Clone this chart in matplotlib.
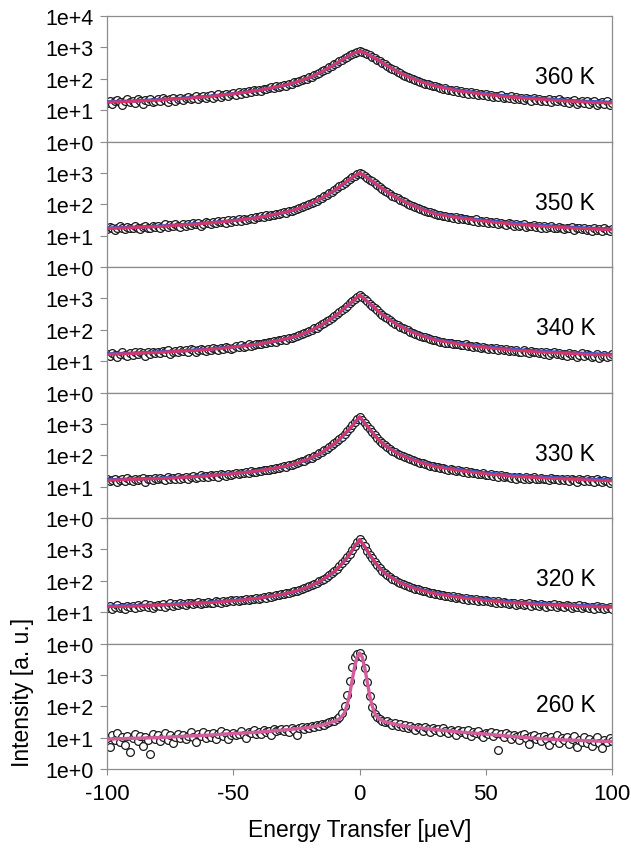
import numpy as np
import matplotlib
matplotlib.use("Agg")
import matplotlib.pyplot as plt

plt.rcParams["font.family"] = ["Liberation Sans", "DejaVu Sans"]
plt.rcParams["axes.unicode_minus"] = False

# energy transfer grid of the measured spectra (µeV)
energy = np.arange(-100, 101, 1)

temperatures = ["360 K", "350 K", "340 K", "330 K", "320 K", "260 K"]

# measured intensities, one spectrum per temperature
i_360 = [
    17, 20, 16, 19, 21, 18, 15, 19, 22, 18,
    20, 17, 22, 19, 16, 21, 20, 23, 18, 20,
    22, 19, 24, 21, 18, 23, 25, 20, 22, 24,
    21, 25, 27, 23, 24, 28, 22, 26, 29, 25,
    28, 31, 25, 29, 33, 27, 30, 34, 29, 32,
    35, 31, 37, 34, 39, 36, 41, 38, 44, 40,
    45, 42, 49, 47, 51, 54, 50, 58, 55, 61,
    64, 60, 70, 68, 77, 82, 86, 91, 99, 102,
    113, 118, 132, 140, 155, 175, 190, 212, 230, 262,
    295, 320, 365, 400, 445, 490, 555, 610, 680, 720,
    765,
    725, 675, 615, 560, 495, 450, 405, 360, 325, 290,
    258, 228, 205, 186, 168, 150, 137, 125, 114, 106,
    99, 92, 88, 80, 76, 70, 67, 63, 59, 57,
    54, 52, 48, 50, 45, 44, 41, 43, 39, 40,
    36, 38, 34, 37, 33, 35, 31, 34, 30, 32,
    28, 31, 27, 29, 26, 30, 24, 27, 25, 28,
    23, 26, 22, 24, 21, 25, 23, 20, 24, 21,
    22, 19, 21, 20, 23, 18, 21, 19, 22, 20,
    18, 20, 17, 19, 21, 16, 18, 19, 17, 20,
    16, 18, 19, 15, 17, 18, 16, 19, 15, 17,
]

i_350 = [
    16, 19, 17, 15, 18, 20, 17, 16, 19, 18,
    17, 20, 18, 16, 19, 21, 18, 17, 20, 19,
    21, 18, 20, 23, 19, 22, 20, 24, 21, 19,
    23, 21, 24, 22, 26, 23, 25, 21, 24, 27,
    26, 24, 28, 25, 29, 27, 30, 26, 31, 28,
    31, 29, 33, 30, 35, 32, 34, 37, 33, 38,
    39, 41, 38, 44, 42, 46, 45, 50, 48, 54,
    56, 53, 61, 60, 68, 71, 76, 80, 86, 95,
    102, 108, 122, 130, 146, 162, 178, 198, 222, 250,
    285, 320, 370, 420, 485, 550, 635, 720, 820, 910,
    1000,
    905, 810, 700, 610, 535, 470, 405, 355, 315, 275,
    240, 210, 190, 170, 155, 138, 126, 115, 104, 97,
    89, 82, 77, 71, 66, 62, 58, 55, 51, 49,
    46, 44, 42, 43, 39, 40, 37, 38, 35, 36,
    33, 35, 31, 32, 30, 33, 28, 30, 27, 29,
    26, 28, 25, 27, 23, 26, 24, 22, 25, 23,
    21, 23, 20, 22, 24, 19, 21, 20, 22, 19,
    20, 18, 21, 17, 19, 20, 18, 17, 19, 18,
    16, 18, 17, 19, 15, 17, 18, 16, 17, 15,
    16, 14, 17, 15, 16, 14, 17, 15, 14, 16,
]

i_340 = [
    17, 15, 18, 16, 14, 17, 19, 16, 15, 18,
    16, 19, 17, 20, 18, 15, 19, 17, 20, 18,
    20, 18, 21, 19, 22, 17, 20, 21, 19, 22,
    21, 23, 20, 24, 22, 19, 23, 25, 22, 21,
    24, 22, 26, 25, 23, 27, 25, 28, 26, 24,
    27, 30, 28, 32, 29, 31, 34, 30, 33, 35,
    36, 34, 39, 37, 41, 40, 44, 42, 47, 46,
    51, 49, 55, 54, 61, 64, 67, 74, 78, 86,
    92, 98, 110, 118, 133, 148, 165, 185, 205, 238,
    272, 310, 365, 420, 495, 580, 690, 810, 960, 1130,
    1300,
    1120, 950, 800, 680, 580, 490, 420, 355, 305, 265,
    230, 200, 178, 158, 142, 127, 115, 104, 95, 88,
    81, 75, 70, 65, 61, 57, 54, 51, 48, 46,
    44, 41, 42, 39, 37, 38, 36, 34, 35, 33,
    32, 34, 30, 31, 29, 31, 28, 27, 29, 26,
    25, 27, 24, 26, 23, 25, 22, 24, 21, 23,
    21, 23, 20, 19, 22, 20, 18, 21, 19, 20,
    18, 20, 17, 19, 16, 18, 19, 17, 18, 16,
    17, 15, 18, 16, 17, 14, 16, 18, 15, 17,
    16, 14, 15, 17, 13, 15, 16, 14, 15, 17,
]

i_330 = [
    17, 15, 16, 18, 14, 16, 17, 15, 19, 16,
    15, 18, 16, 17, 19, 14, 17, 18, 16, 19,
    17, 19, 18, 16, 20, 18, 19, 17, 20, 18,
    19, 21, 18, 20, 22, 19, 21, 23, 20, 22,
    21, 23, 22, 24, 21, 25, 23, 22, 26, 24,
    25, 27, 26, 28, 27, 30, 28, 31, 29, 30,
    32, 31, 34, 35, 33, 37, 36, 40, 39, 42,
    45, 43, 49, 48, 54, 57, 59, 65, 68, 76,
    80, 84, 94, 100, 114, 126, 142, 160, 182, 212,
    245, 285, 335, 395, 480, 580, 720, 900, 1120, 1400,
    1700,
    1380, 1080, 860, 680, 540, 430, 345, 285, 240, 205,
    178, 155, 138, 124, 112, 102, 94, 87, 80, 75,
    70, 66, 62, 58, 55, 52, 49, 47, 44, 42,
    41, 39, 40, 37, 35, 36, 34, 32, 33, 31,
    30, 31, 28, 29, 27, 28, 26, 25, 27, 24,
    23, 25, 22, 24, 21, 23, 20, 22, 21, 19,
    20, 18, 21, 19, 17, 20, 18, 19, 21, 17,
    18, 19, 17, 18, 16, 19, 17, 18, 16, 17,
    16, 17, 15, 18, 16, 14, 17, 16, 15, 17,
    15, 16, 14, 17, 15, 14, 16, 15, 13, 15,
]

i_320 = [
    14, 16, 13, 15, 17, 14, 15, 13, 16, 15,
    16, 14, 17, 15, 16, 18, 15, 17, 14, 16,
    17, 16, 18, 15, 17, 19, 16, 18, 17, 19,
    18, 17, 19, 20, 18, 19, 21, 18, 20, 19,
    21, 19, 20, 22, 21, 20, 23, 21, 22, 24,
    22, 24, 23, 25, 24, 26, 25, 27, 26, 28,
    27, 29, 30, 29, 32, 31, 33, 34, 35, 37,
    38, 40, 42, 43, 46, 48, 51, 54, 58, 62,
    66, 71, 78, 86, 96, 106, 118, 135, 156, 182,
    210, 245, 295, 360, 445, 560, 720, 950, 1280, 1700,
    2100,
    1680, 1250, 920, 680, 520, 400, 315, 255, 210, 175,
    150, 130, 115, 103, 93, 85, 78, 72, 67, 63,
    59, 56, 53, 50, 48, 46, 44, 42, 40, 38,
    37, 35, 36, 33, 32, 31, 32, 29, 30, 28,
    27, 28, 25, 26, 24, 26, 23, 25, 22, 24,
    22, 21, 23, 20, 22, 19, 21, 20, 18, 20,
    19, 17, 18, 20, 17, 18, 19, 16, 18, 17,
    16, 18, 17, 15, 17, 16, 18, 15, 17, 16,
    15, 17, 16, 14, 16, 15, 17, 14, 16, 15,
    14, 15, 13, 16, 14, 15, 13, 14, 15, 13,
]

i_260 = [
    9.5, 5.2, 12.1, 8.3, 13.8, 7.1, 10.4, 6.0, 11.2, 3.4,
    9.8, 13.5, 7.6, 11.0, 5.4, 10.2, 8.7, 3.1, 12.6, 9.0,
    11.8, 7.9, 10.5, 14.2, 8.4, 12.0, 6.6, 10.8, 13.1, 9.6,
    12.4, 8.8, 11.3, 14.6, 10.1, 7.4, 12.9, 11.6, 15.2, 9.9,
    13.0, 10.6, 14.1, 9.2, 12.7, 15.8, 11.4, 13.6, 8.9, 12.2,
    14.5, 11.8, 13.2, 16.4, 12.5, 9.4, 15.1, 13.9, 17.0, 12.8,
    15.6, 13.3, 17.8, 14.7, 16.5, 12.1, 18.3, 15.9, 17.2, 19.4,
    16.8, 18.9, 15.4, 20.1, 17.6, 12.0, 19.8, 21.3, 18.5, 22.0,
    20.5, 23.4, 21.8, 25.2, 24.0, 27.1, 26.0, 29.3, 31.0, 33.5,
    35, 38, 46, 60, 105, 225, 640, 1750, 3700, 4800,
    5100,
    3650, 1680, 590, 215, 98, 58, 44, 39, 34, 31,
    33.5, 28.4, 25.1, 29.6, 23.2, 27.0, 21.4, 24.8, 19.6, 23.5,
    20.8, 17.4, 22.6, 19.9, 16.2, 21.7, 18.8, 14.9, 20.3, 17.1,
    18.4, 15.2, 19.6, 16.8, 13.7, 17.9, 15.5, 12.4, 16.9, 14.6,
    15.8, 13.1, 17.2, 11.6, 14.9, 13.6, 16.1, 12.3, 10.4, 14.2,
    12.9, 15.4, 11.3, 13.8, 3.9, 12.6, 10.2, 14.0, 11.7, 9.3,
    12.1, 10.8, 8.4, 11.9, 13.2, 9.7, 6.2, 10.9, 12.4, 8.8,
    10.3, 7.6, 11.5, 9.1, 5.8, 10.6, 8.3, 12.0, 6.9, 9.4,
    8.2, 10.7, 6.1, 9.3, 11.1, 5.2, 8.7, 7.4, 10.2, 6.6,
    9.0, 5.4, 8.1, 10.4, 6.8, 4.6, 8.6, 7.2, 9.7, 7.8,
]

# fitted model curves (two fits for the high temperatures)
fit_x = [-100, -90, -80, -70, -60, -50, -40, -30, -25, -20, -15, -10, -8, -6, -4, -2, 0,
         2, 4, 6, 8, 10, 15, 20, 25, 30, 40, 50, 60, 70, 80, 90, 100]

red_360 = [18, 19, 21, 23.5, 27, 33, 43, 62, 80, 110, 170, 290, 360, 450, 560, 680, 760,
           680, 560, 455, 365, 290, 168, 108, 77, 58, 40, 31.5, 26, 22.5, 20, 18, 16.8]
blue_360 = [18.5, 19.5, 21.5, 24, 27.5, 33.5, 43, 61, 79, 108, 166, 283, 352, 440, 550, 665, 745,
            668, 552, 450, 362, 288, 168, 110, 79, 60, 42, 33, 27.5, 24, 21, 19, 17.8]

red_350 = [17, 18, 19.5, 22, 25, 30, 38, 55, 70, 100, 160, 280, 370, 480, 630, 820, 1000,
           810, 610, 470, 355, 275, 155, 98, 67, 49, 36, 28.5, 23.5, 20.5, 18.3, 16.5, 15.3]
blue_350 = [17.5, 18.5, 20, 22.5, 25.5, 30.5, 38, 54, 69, 98, 157, 275, 362, 470, 618, 805, 980,
            795, 600, 465, 352, 273, 155, 99, 69, 51, 38, 30, 25, 21.8, 19.3, 17.4, 16.2]

red_340 = [16.5, 17.5, 19, 21, 23.5, 28, 35, 50, 63, 90, 145, 270, 360, 500, 680, 950, 1300,
           950, 680, 490, 355, 265, 143, 89, 62, 47, 34, 27, 22.5, 19.8, 18, 16.6, 15.5]
blue_340 = [17, 18, 19.5, 21.5, 24, 28.5, 35, 49, 62, 88, 142, 264, 352, 490, 665, 930, 1270,
            932, 668, 485, 352, 264, 144, 91, 64, 49, 36, 28.5, 24, 21, 19, 17.5, 16.4]

red_330 = [16, 17, 18, 19.5, 22, 26, 32, 44, 56, 78, 125, 240, 330, 480, 700, 1100, 1700,
           1080, 680, 430, 285, 205, 113, 76, 56, 43, 32, 25.5, 21.5, 19.3, 17.7, 16.4, 15.2]
blue_330 = [16.5, 17.5, 18.5, 20, 22.5, 26.5, 32, 43, 55, 76, 122, 234, 322, 470, 685, 1075, 1660,
            1060, 668, 425, 283, 205, 115, 78, 58, 45, 34, 27, 23, 20.5, 18.8, 17.3, 16.1]

red_320 = [15, 15.5, 16.5, 18, 20, 23, 28, 38, 48, 65, 105, 200, 290, 440, 700, 1250, 2100,
           1250, 680, 400, 255, 175, 94, 63, 48, 38.5, 29, 23.5, 20, 17.8, 16.4, 15.2, 14.2]
blue_320 = [15.5, 16, 17, 18.5, 20.5, 23.5, 28, 37.5, 47, 64, 103, 196, 284, 430, 685, 1225, 2050,
            1225, 668, 395, 253, 175, 95, 65, 50, 40, 30.5, 25, 21, 18.8, 17.3, 16, 15]

fit_x_260 = [-100, -90, -80, -70, -60, -50, -40, -30, -20, -15, -10, -8, -7, -6, -5, -4, -3, -2, -1, 0,
             1, 2, 3, 4, 5, 6, 7, 8, 10, 15, 20, 30, 40, 50, 60, 70, 80, 90, 100]
pink_260 = [9, 9.5, 10, 11, 12, 13.5, 15, 17.5, 21, 25, 33, 40, 48, 62, 110, 230, 650, 1800, 3800, 5000,
            3700, 1700, 600, 210, 100, 60, 45, 38, 32, 26, 22, 18, 15, 13, 11, 9.5, 8.5, 8, 7.5]

spectra = [i_360, i_350, i_340, i_330, i_320, i_260]
red_fits = [red_360, red_350, red_340, red_330, red_320]
blue_fits = [blue_360, blue_350, blue_340, blue_330, blue_320]

RED = "#d8356a"
BLUE = "#3a56c4"
PINK = "#d35c9c"
FRAME = "#8c8c8c"

fig = plt.figure(figsize=(6.31, 8.53), dpi=100)
axes = fig.subplots(6, 1, sharex=True, gridspec_kw=dict(hspace=0))
fig.subplots_adjust(left=0.170, right=0.970, top=0.980, bottom=0.0973)

for k, ax in enumerate(axes):
    ax.set_yscale("log")
    ax.set_xlim(-100, 100)
    ax.set_ylim(1, 1e4)
    ax.plot(energy, spectra[k], linestyle="none", marker="o", markersize=5.6,
            markerfacecolor="white", markeredgecolor="#1a1a1a", markeredgewidth=0.9,
            zorder=2)
    if k < 5:
        ax.plot(fit_x, blue_fits[k], color=BLUE, lw=2.4, zorder=3)
        ax.plot(fit_x, red_fits[k], color=RED, lw=2.0, zorder=4)
    else:
        ax.plot(fit_x_260, pink_260, color=PINK, lw=2.4, zorder=4)

    ax.text(81.5, 115, temperatures[k], ha="center", va="center", fontsize=16.5)

    if k == 0:
        ticks = [1, 10, 100, 1000, 10000]
    else:
        ticks = [1, 10, 100, 1000]
    ax.set_yticks(ticks)
    ax.set_yticklabels(["1e+%d" % int(round(np.log10(t))) for t in ticks])
    ax.minorticks_off()
    ax.tick_params(axis="y", which="major", direction="out", length=5, width=0.8,
                   color=FRAME, labelsize=15.5, pad=5)
    ax.tick_params(axis="x", which="major", direction="out", length=4, width=0.8,
                   color=FRAME, labelsize=16, pad=6)
    for side in ["left", "right", "top", "bottom"]:
        ax.spines[side].set_color(FRAME)
        ax.spines[side].set_linewidth(0.9)

axes[-1].set_xticks([-100, -50, 0, 50, 100])
axes[-1].set_xlabel("Energy Transfer [μeV]", fontsize=16.5, labelpad=10)
fig.text(0.035, 1 - 692 / 853, "Intensity [a. u.]", rotation=90, ha="center", va="center",
         fontsize=16.5)

fig.savefig("out.png", dpi=100)
